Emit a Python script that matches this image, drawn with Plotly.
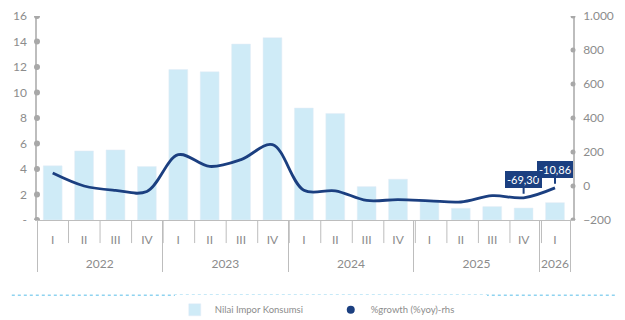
import plotly.graph_objects as go

# Quarterly data
years = ["2022"] * 4 + ["2023"] * 4 + ["2024"] * 4 + ["2025"] * 4 + ["2026"]
quarters = ["I", "II", "III", "IV"] * 4 + ["I"]
nilai_impor = [4.25, 5.42, 5.5, 4.2, 11.8, 11.63, 13.8, 14.3, 8.78, 8.36,
               2.62, 3.2, 1.55, 0.92, 1.05, 0.94, 1.36]
growth_yoy = [76, 0, -26, -32, 184, 115, 155, 243, -25, -28,
              -85, -80, -87, -94, -57, -69.30, -10.86]

left_ticks = [0, 2, 4, 6, 8, 10, 12, 14, 16]
left_ticktext = ["-", "2", "4", "6", "8", "10", "12", "14", "16"]
right_ticks = [-200, 0, 200, 400, 600, 800, 1000]

BAR = "#CFEBF7"
NAVY = "#1B3F80"
GRAY = "#8C8C8C"
AXIS = "#BDBDBD"
FONT = "Lato"

n = len(quarters)
# year labels sit one line lower, below the quarter labels
year_labels = ["<br>" + y for y in years]
x_cats = [year_labels, quarters]

fig = go.Figure()
fig.add_trace(go.Bar(
    x=x_cats, y=nilai_impor, name="Nilai Impor Konsumsi",
    marker_color=BAR, yaxis="y",
))
fig.add_trace(go.Scatter(
    x=x_cats, y=growth_yoy, name="%growth (%yoy)-rhs",
    mode="lines", line=dict(color=NAVY, width=2.8, shape="spline", smoothing=1),
    yaxis="y2", showlegend=False,
))
# Legend entry for the growth series, shown as a dot
fig.add_trace(go.Scatter(
    x=[None], y=[None], name="%growth (%yoy)-rhs", mode="markers",
    marker=dict(color=NAVY, size=8), yaxis="y2",
))

# Value callouts for the last two quarters
for i in (15, 16):
    fig.add_annotation(
        x=i, y=growth_yoy[i], xref="x", yref="y2",
        text=f"{growth_yoy[i]:.2f}".replace(".", ","),
        font=dict(family=FONT, size=11, color="white"),
        bgcolor=NAVY, bordercolor=NAVY, borderpad=1, borderwidth=1,
        showarrow=True, arrowhead=0, arrowwidth=2, arrowcolor=NAVY,
        ax=0, ay=-18, standoff=4,
    )

shapes = []
# Dots on both value axes
for v in left_ticks:
    shapes.append(dict(type="circle", xref="paper", yref="y", xsizemode="pixel",
                       ysizemode="pixel", xanchor=0, yanchor=v,
                       x0=-3, x1=3, y0=-3, y1=3, fillcolor="#A8A8A8", line_width=0))
for v in right_ticks:
    shapes.append(dict(type="circle", xref="paper", yref="y2", xsizemode="pixel",
                       ysizemode="pixel", xanchor=1, yanchor=v,
                       x0=-2.5, x1=2.5, y0=-2.5, y1=2.5, fillcolor="#A8A8A8", line_width=0))
# Quarter separators below the axis
for i in range(1, n):
    shapes.append(dict(type="line", xref="paper", yref="paper",
                       x0=i / n, x1=i / n, y0=0, y1=-0.113,
                       line=dict(color=AXIS, width=1)))
# Dotted rule above the legend
shapes.append(dict(type="line", xref="paper", yref="paper",
                   x0=-0.047, x1=1.078, y0=-0.369, y1=-0.369,
                   line=dict(color="#8FD3F0", width=1.5, dash="dot")))

fig.update_layout(
    width=625, height=320,
    margin=dict(l=37, r=52, t=16, b=100, autoexpand=False),
    paper_bgcolor="white", plot_bgcolor="white",
    separators=",.",
    font=dict(family=FONT, size=12, color=GRAY),
    bargap=0.4,
    showlegend=True,
    legend=dict(orientation="h", x=0.257, xanchor="left", y=-0.44, yanchor="middle",
                font=dict(family=FONT, size=9.5, color=GRAY),
                entrywidth=111, traceorder="normal"),
    xaxis=dict(
        type="multicategory", showgrid=False, zeroline=False,
        showline=True, linecolor=AXIS, linewidth=1,
        ticks="", ticklabelstandoff=9,
        showdividers=True, dividercolor=AXIS, dividerwidth=1,
        tickfont=dict(family=FONT, size=12, color=GRAY),
    ),
    yaxis=dict(
        range=[0, 16], tickvals=left_ticks, ticktext=left_ticktext,
        showgrid=False, zeroline=False, showline=True, linecolor=AXIS, linewidth=1.5,
        ticks="", ticklabelstandoff=6,
        tickfont=dict(family=FONT, size=12, color=GRAY),
    ),
    yaxis2=dict(
        range=[-200, 1000], tickvals=right_ticks, overlaying="y", side="right",
        showgrid=False, zeroline=False, showline=True, linecolor=AXIS, linewidth=1.5,
        ticks="", tickformat=",d", ticklabelstandoff=6,
        tickfont=dict(family=FONT, size=12, color=GRAY),
    ),
    shapes=shapes,
)

fig.write_html("out.html")
